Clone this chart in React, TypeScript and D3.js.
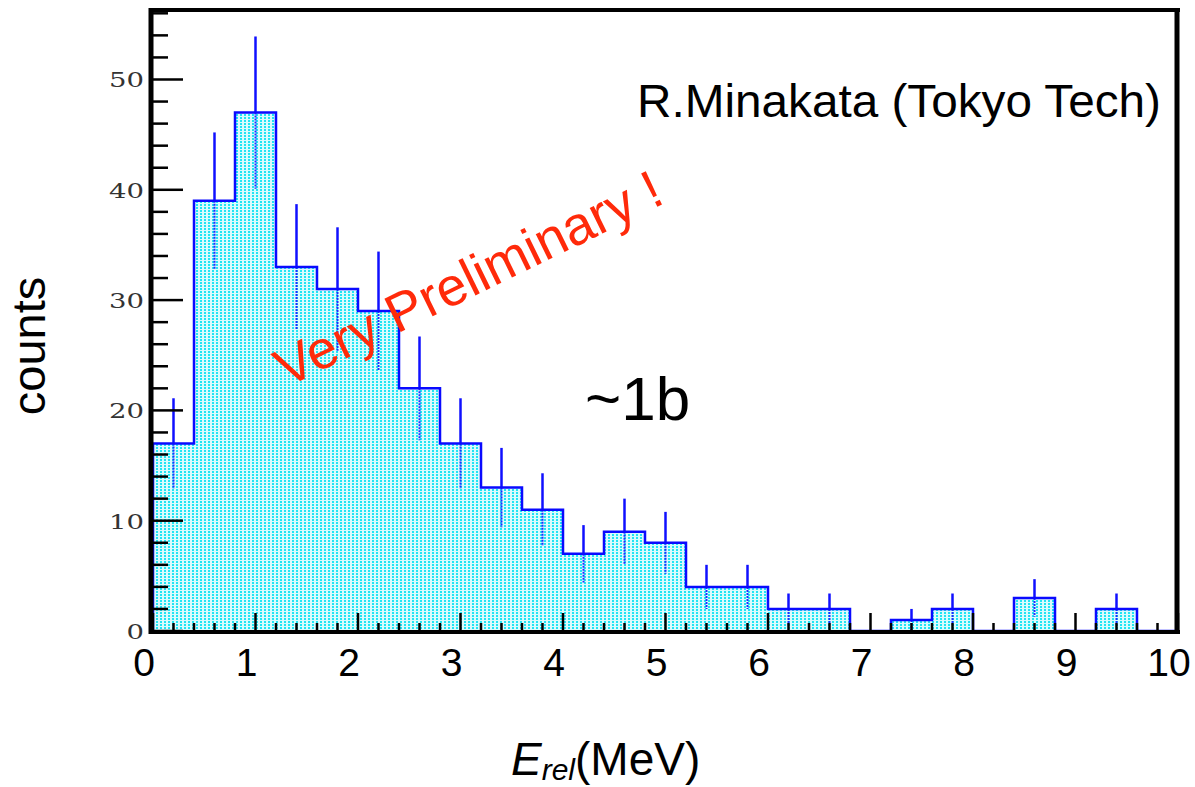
import { useEffect, useRef } from 'react';
import * as d3 from 'd3';

// histogram: E_rel bins (MeV), 0.4 MeV wide
const binStarts = [0, 0.4, 0.8, 1.2, 1.6, 2.0, 2.4, 2.8, 3.2, 3.6, 4.0, 4.4, 4.8, 5.2, 5.6, 6.0, 6.4, 6.8, 7.2, 7.6, 8.0, 8.4, 8.8, 9.2, 9.6];
const counts = [17, 39, 47, 33, 31, 29, 22, 17, 13, 11, 7, 9, 8, 4, 4, 2, 2, 0, 1, 2, 0, 3, 0, 2, 0];
const errors = [4.1, 6.2, 6.9, 5.7, 5.6, 5.4, 4.7, 4.1, 3.6, 3.3, 2.6, 3.0, 2.8, 2.0, 2.0, 1.4, 1.4, 0, 1.0, 1.4, 0, 1.7, 0, 1.4, 0];
const binWidth = 0.4;

const xTickLabels = ['0', '1', '2', '3', '4', '5', '6', '7', '8', '9', '10'];
const yTickLabels = ['0', '10', '20', '30', '40', '50'];

export default function App() {
  const svgRef = useRef<SVGSVGElement>(null);

  useEffect(() => {
    if (!svgRef.current) return;
    const svg = d3.select(svgRef.current);
    svg.selectAll('*').remove();

    const width = 1195;
    const height = 787;
    const sans = '"Liberation Sans", Arial, sans-serif';

    const x = d3.scaleLinear().domain([0, 10]).range([153, 1178]);
    const y = d3.scaleLinear().domain([0, 56.3]).range([631, 10]);

    svg.attr('width', width).attr('height', height).attr('viewBox', `0 0 ${width} ${height}`);

    // dotted cyan fill, like ROOT's fill style
    const defs = svg.append('defs');
    const pat = defs.append('pattern')
      .attr('id', 'hfill')
      .attr('patternUnits', 'userSpaceOnUse')
      .attr('width', 4)
      .attr('height', 3);
    pat.append('rect').attr('width', 4).attr('height', 3).attr('fill', '#dafbfd');
    pat.append('rect').attr('width', 2).attr('height', 2).attr('fill', '#22e4f3');

    const bins = binStarts.map((b, i) => ({ x0: b, x1: b + binWidth, n: counts[i], e: errors[i] }));

    // step outline points
    const pts: [number, number][] = [[0, 0]];
    bins.forEach((b) => pts.push([b.x0, b.n]));
    pts.push([10, bins[bins.length - 1].n]);
    pts.push([10, 0]);

    const step = d3.line<[number, number]>()
      .x((d) => x(d[0]))
      .y((d) => y(d[1]))
      .curve(d3.curveStepAfter);

    svg.append('path')
      .attr('d', step(pts) + 'Z')
      .attr('fill', 'url(#hfill)')
      .attr('stroke', 'none');

    // error bars: dotted inside the fill, solid above
    bins.filter((b) => b.e > 0).forEach((b) => {
      const cx = x((b.x0 + b.x1) / 2);
      svg.append('line')
        .attr('x1', cx).attr('x2', cx)
        .attr('y1', y(b.n)).attr('y2', y(b.n - b.e))
        .attr('stroke', '#1f2cff')
        .attr('stroke-width', 2)
        .attr('stroke-dasharray', '2,1');
      svg.append('line')
        .attr('x1', cx).attr('x2', cx)
        .attr('y1', y(b.n + b.e)).attr('y2', y(b.n))
        .attr('stroke', '#1010ff')
        .attr('stroke-width', 2.5);
    });

    svg.append('path')
      .attr('d', step(pts))
      .attr('fill', 'none')
      .attr('stroke', '#0a0aff')
      .attr('stroke-width', 2.5);

    // ticks
    const tickG = svg.append('g').attr('stroke', '#000').attr('stroke-width', 2.5);
    x.ticks(50).forEach((t) => {
      const major = Math.abs(t - Math.round(t)) < 1e-6;
      tickG.append('line')
        .attr('x1', x(t)).attr('x2', x(t))
        .attr('y1', 632).attr('y2', 632 - (major ? 19 : 9));
    });
    y.ticks(28).forEach((t) => {
      const major = t % 10 === 0;
      tickG.append('line')
        .attr('x1', 152).attr('x2', 152 + (major ? 31 : 16))
        .attr('y1', y(t)).attr('y2', y(t));
    });

    // frame
    svg.append('line').attr('x1', 149).attr('x2', 1180).attr('y1', 10).attr('y2', 10)
      .attr('stroke', '#000').attr('stroke-width', 4);
    svg.append('line').attr('x1', 1177).attr('x2', 1177).attr('y1', 8).attr('y2', 634)
      .attr('stroke', '#000').attr('stroke-width', 5);
    svg.append('line').attr('x1', 151).attr('x2', 151).attr('y1', 8).attr('y2', 634)
      .attr('stroke', '#000').attr('stroke-width', 5);
    svg.append('line').attr('x1', 149).attr('x2', 1180).attr('y1', 632).attr('y2', 632)
      .attr('stroke', '#000').attr('stroke-width', 4);

    // y tick labels (serif, ROOT style)
    yTickLabels.forEach((lab) => {
      const v = +lab;
      svg.append('text')
        .attr('x', 144)
        .attr('y', y(v) + 1)
        .attr('text-anchor', 'end')
        .attr('dominant-baseline', 'central')
        .attr('font-family', '"DejaVu Serif", serif')
        .attr('font-size', 20)
        .attr('fill', '#333')
        .attr('textLength', lab.length * 17.5)
        .attr('lengthAdjust', 'spacingAndGlyphs')
        .text(lab);
    });

    // x tick labels
    xTickLabels.forEach((lab) => {
      svg.append('text')
        .attr('x', x(+lab) - 9)
        .attr('y', 676)
        .attr('text-anchor', 'middle')
        .attr('font-family', sans)
        .attr('font-size', 39)
        .attr('fill', '#000')
        .text(lab);
    });

    // axis titles
    svg.append('text')
      .attr('transform', 'translate(45,346) rotate(-90)')
      .attr('text-anchor', 'middle')
      .attr('font-family', sans)
      .attr('font-size', 47)
      .text('counts');

    const xt = svg.append('text')
      .attr('x', 511)
      .attr('y', 775)
      .attr('font-family', sans)
      .attr('font-size', 46);
    xt.append('tspan').attr('font-style', 'italic').text('E');
    xt.append('tspan').attr('font-style', 'italic').attr('font-size', 30).attr('dy', 5).text('rel');
    xt.append('tspan').attr('dy', -5).text('(MeV)');

    // annotations
    svg.append('text')
      .attr('x', 1161)
      .attr('y', 117)
      .attr('text-anchor', 'end')
      .attr('font-family', sans)
      .attr('font-size', 46)
      .attr('textLength', 524)
      .attr('lengthAdjust', 'spacingAndGlyphs')
      .text('R.Minakata (Tokyo Tech)');

    svg.append('text')
      .attr('x', 585)
      .attr('y', 420)
      .attr('font-family', sans)
      .attr('font-size', 62)
      .text('~1b');

    svg.append('text')
      .attr('transform', 'translate(468,278) rotate(-26)')
      .attr('text-anchor', 'middle')
      .attr('dominant-baseline', 'central')
      .attr('font-family', sans)
      .attr('font-size', 54)
      .attr('fill', '#ff2a0a')
      .text('Very Preliminary !');
  }, []);

  return (
    <svg
      ref={svgRef}
      style={{ position: 'absolute', left: 0, top: 0, display: 'block', background: '#fff' }}
    />
  );
}
